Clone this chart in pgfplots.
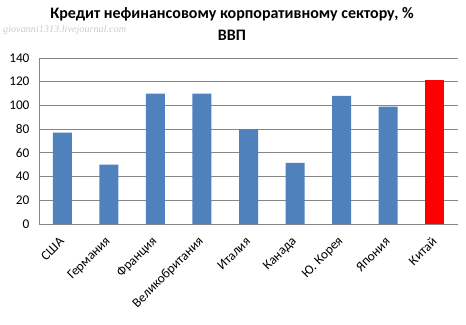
\documentclass[border=0pt]{standalone}
\usepackage{pgfplots}
\pgfplotsset{compat=1.18}
\usepackage{fontspec}
\setmainfont{Carlito}
\newfontfamily\wmfont{Liberation Serif}
\definecolor{barblue}{HTML}{4F81BD}
\definecolor{gridgray}{HTML}{868686}
\begin{document}
\begin{tikzpicture}[x=1bp,y=1bp]
\path (0,0) rectangle (466,324);
\begin{axis}[
  at={(39bp,100bp)}, anchor=south west,
  scale only axis, width=419bp, height=166bp,
  xmin=-0.5, xmax=8.5, ymin=0, ymax=140,
  ytick={0,20,...,140},
  xtick={0,...,8},
  xticklabels={США,Германия,Франция,Великобритания,Италия,Канада,Ю. Корея,Япония,Китай},
  axis lines*=left,
  axis line style={gridgray, line width=0.9pt},
  ymajorgrids, grid style={gridgray, line width=0.9pt},
  major tick length=0pt,
  /pgf/number format/assume math mode=true,
  yticklabel style={font=\fontsize{13.3bp}{15bp}\selectfont, xshift=-6bp},
  xticklabel style={font=\fontsize{13.3bp}{15bp}\selectfont, xshift=2bp, yshift=-13bp, rotate=45, anchor=east},
  ybar, bar width=19bp,
  every axis plot/.append style={draw=none, bar shift=0pt},
  clip=false,
]
\addplot[fill=barblue] coordinates {(0,77) (1,50) (2,110) (3,110) (4,80) (5,51.5) (6,108) (7,99)};
\addplot[fill=red] coordinates {(8,121.5)};
\end{axis}
\node[font=\bfseries\fontsize{16bp}{22bp}\selectfont, align=center] at (232,300) {Кредит нефинансовому корпоративному сектору, \%\\ВВП};
\node[font=\wmfont\itshape\fontsize{10.2bp}{12bp}\selectfont, text=gray!40, anchor=west, inner sep=0pt] at (3,294) {giovanni1313.livejournal.com};
\end{tikzpicture}
\end{document}
